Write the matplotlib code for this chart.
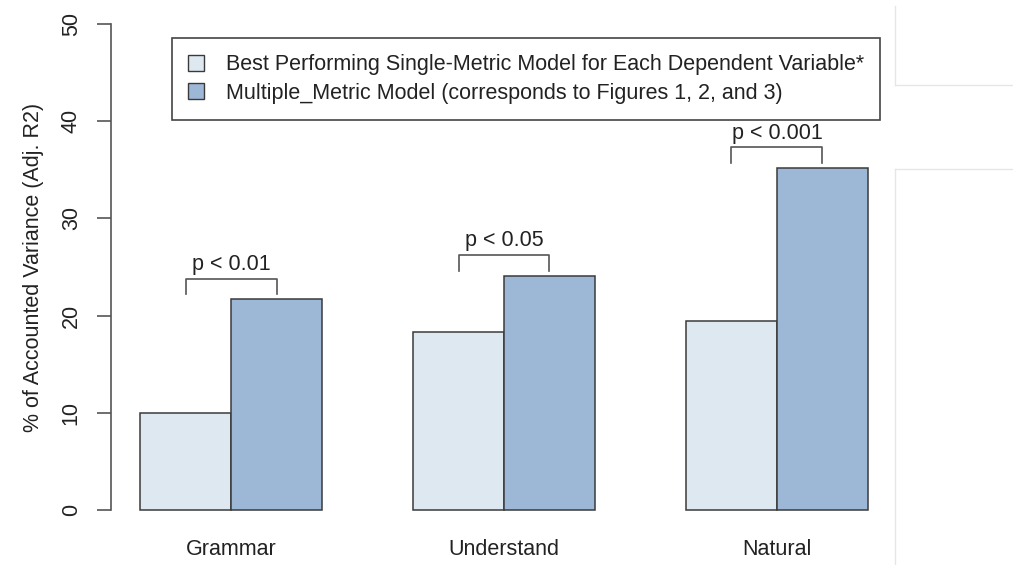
import numpy as np
import matplotlib.pyplot as plt
from matplotlib.patches import Patch
from matplotlib.lines import Line2D

plt.rcParams['font.family'] = ['Liberation Sans', 'DejaVu Sans']

categories = ['Grammar', 'Understand', 'Natural']
single_metric = [10.0, 18.3, 19.4]
multi_metric = [21.7, 24.1, 35.2]
p_labels = ['p < 0.01', 'p < 0.05', 'p < 0.001']
series_names = ['Best Performing Single-Metric Model for Each Dependent Variable*',
                'Multiple_Metric Model (corresponds to Figures 1, 2, and 3)']

light = '#dde8f1'
dark = '#9db7d7'
edge = '#3a3a3a'
txt = '#222222'
fs = 15.5

W, H = 1013, 565
fig = plt.figure(figsize=(W / 100, H / 100), dpi=100)
# R-style barplot: bar width 1, one bar gap between groups
ax = fig.add_axes([111 / W, (H - 529.4) / H, 786 / W, 524.8 / H])
ax.set_xlim(0.68, 9.32)
ax.set_ylim(-2, 52)

x1 = np.array([1.5, 4.5, 7.5])
x2 = x1 + 1
ax.bar(x1, single_metric, width=1, color=light, edgecolor=edge, linewidth=1.1)
ax.bar(x2, multi_metric, width=1, color=dark, edgecolor=edge, linewidth=1.1)

# significance brackets
for a, b, top, lab in zip(x1, x2, multi_metric, p_labels):
    ax.plot([a, a, b, b], [top + 0.5, top + 2.1, top + 2.1, top + 0.5],
            color='#555555', lw=1.2)
    ax.text((a + b) / 2, top + 2.5, lab, ha='center', va='bottom',
            fontsize=fs, color=txt)

for s in ['top', 'right', 'bottom']:
    ax.spines[s].set_visible(False)
ax.spines['left'].set_bounds(0, 50)
ax.spines['left'].set_color('#555555')
ax.spines['left'].set_linewidth(1.2)
ax.set_yticks(np.arange(0, 51, 10))
ax.set_yticklabels([str(v) for v in range(0, 51, 10)], rotation=90, va='center',
                   fontsize=fs, color=txt)
ax.tick_params(axis='y', length=10, width=1.2, color='#555555', pad=11)
ax.set_xticks((x1 + x2) / 2)
ax.set_xticklabels(categories, fontsize=fs, color=txt)
ax.tick_params(axis='x', length=0, pad=7)
ax.set_ylabel('% of Accounted Variance (Adj. R2)', fontsize=fs, color=txt,
              labelpad=12)

handles = [Patch(facecolor=light, edgecolor=edge, linewidth=1.0),
           Patch(facecolor=dark, edgecolor=edge, linewidth=1.0)]
leg = ax.legend(handles, series_names, loc='upper left',
                bbox_to_anchor=(172 / W, 1 - 38 / H), bbox_transform=fig.transFigure,
                fontsize=fs, frameon=True, fancybox=False, framealpha=1,
                edgecolor='#444444', handlelength=0.75, handleheight=0.75,
                handletextpad=1.0, labelspacing=0.35, borderpad=0.75, borderaxespad=0)
leg.get_frame().set_linewidth(1.2)
for t in leg.get_texts():
    t.set_color(txt)

# faint screenshot boxes on the right edge
g = '#e6e6e6'
fig.add_artist(Line2D([895 / W, 895 / W], [1 - 6 / H, 1 - 85 / H], color=g, lw=1))
fig.add_artist(Line2D([895 / W, 1], [1 - 85 / H, 1 - 85 / H], color=g, lw=1))
fig.add_artist(Line2D([895 / W, 1], [1 - 169 / H, 1 - 169 / H], color=g, lw=1))
fig.add_artist(Line2D([895 / W, 895 / W], [1 - 169 / H, 0], color=g, lw=1))

fig.savefig('out.png', dpi=100)
